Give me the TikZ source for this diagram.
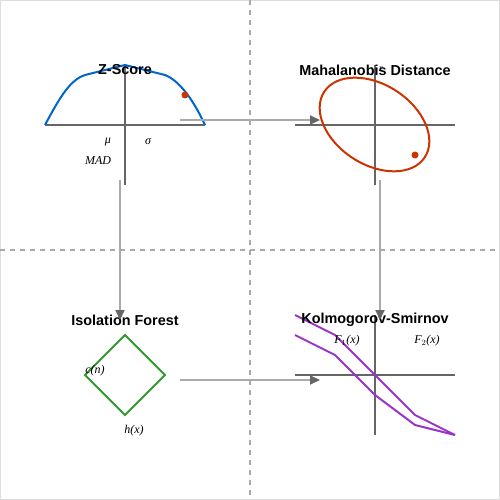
\documentclass[tikz,border=0pt]{standalone}
\usepackage{fontspec}
\setmainfont{Liberation Serif}
\setsansfont{Liberation Sans}
\usetikzlibrary{arrows.meta}
\definecolor{axisgray}{HTML}{666666}
\definecolor{linegray}{HTML}{AAAAAA}
\definecolor{dashgray}{HTML}{AAAAAA}
\definecolor{framegray}{HTML}{DDDDDD}
\definecolor{zblue}{HTML}{0066CC}
\definecolor{mred}{HTML}{CC3300}
\definecolor{igreen}{HTML}{339933}
\definecolor{kpurple}{HTML}{9933CC}
\tikzset{
  x=1pt, y=-1pt,
  axisline/.style={draw=axisgray, line width=2pt},
  divider/.style={draw=dashgray, line width=1.5pt, dash pattern=on 5pt off 5pt},
  flow/.style={draw=linegray, line width=2pt, -{Triangle[length=10pt,width=9pt,color=axisgray]}},
  title/.style={font=\sffamily\bfseries\fontsize{14.4}{16}\selectfont, inner sep=0pt},
  mlabel/.style={font=\itshape\fontsize{12}{14}\selectfont, inner sep=0pt},
  curve/.style={line width=2pt, line join=round},
  dot/.style={circle, fill=mred, inner sep=0pt, minimum size=7pt},
}
\begin{document}
\begin{tikzpicture}
\useasboundingbox (0,0) rectangle (500,500);
\fill[white] (0,0) rectangle (500,500);
\draw[framegray, line width=1pt] (0.5,0.5) rectangle (499.5,499.5);
% dividers
\coordinate (vtop) at (250,0); \coordinate (vbot) at (250,495);
\coordinate (hl) at (0,250); \coordinate (hr) at (495,250);
\draw[divider] (vtop) -- (vbot);
\draw[divider] (hl) -- (hr);

% ---------- Z-Score ----------
\coordinate (zxl) at (45,125); \coordinate (zxr) at (205,125);
\coordinate (zyt) at (125,65); \coordinate (zyb) at (125,185);
\draw[axisline] (zxl) -- (zxr);
\draw[axisline] (zyt) -- (zyb);
\draw[zblue, curve] (45,125) .. controls (60,97) and (70,80) .. (85,75) -- (125,65) -- (165,75) .. controls (178,80) and (192,97) .. (205,125);
\node[dot] (zdot) at (185,95) {};
\node[title] (ztitle) at (125,70) {Z-Score};
\node[mlabel] (mu) at (108,142) {μ};
\node[mlabel] (sigma) at (148,141) {σ};
\node[mlabel] (mad) at (98,161) {MAD};

% ---------- Mahalanobis ----------
\draw[axisline] (295,125) -- (455,125);
\draw[axisline] (375,65) -- (375,185);
\draw[mred, line width=2pt, rotate around={-33:(374.5,124.5)}] (374.5,124.5) ellipse [x radius=60, y radius=40];
\node[dot] (mdot) at (415,155) {};
\node[title] (mtitle) at (375,70) {Mahalanobis Distance};
\node[font=\itshape\fontsize{7}{8}\selectfont, inner sep=0pt] (msig) at (381,69) {Σ};

% ---------- Isolation Forest ----------
\node[title] (ititle) at (125,320) {Isolation Forest};
\coordinate (dt) at (125,335); \coordinate (dr) at (165,375);
\coordinate (db) at (125,415); \coordinate (dl) at (85,375);
\draw[igreen, line width=2pt] (dt) -- (dr) -- (db) -- (dl) -- cycle;
\node[mlabel] (cn) at (95,371) {c(n)};
\node[mlabel] (hx) at (134,431) {h(x)};

% ---------- Kolmogorov-Smirnov ----------
\draw[axisline] (295,375) -- (455,375);
\draw[axisline] (375,315) -- (375,435);
\draw[kpurple, curve] (295,315) -- (335,335) -- (375,375) -- (415,415) -- (455,435);
\draw[kpurple, curve] (295,335) -- (335,355) -- (375,395) -- (415,425) -- (455,435);
\node[title] (ktitle) at (375,320) {Kolmogorov-Smirnov};
\node[mlabel] (f1) at (347,341) {F$_1$(x)};
\node[mlabel] (f2) at (427,341) {F$_2$(x)};

% ---------- flow arrows ----------
\coordinate (a1s) at (180,120); \coordinate (a1e) at (320,120);
\coordinate (a2s) at (120,180); \coordinate (a2e) at (120,320);
\coordinate (a3s) at (380,180); \coordinate (a3e) at (380,320);
\coordinate (a4s) at (180,380); \coordinate (a4e) at (320,380);
\draw[flow] (a1s) -- (a1e);
\draw[flow] (a2s) -- (a2e);
\draw[flow] (a3s) -- (a3e);
\draw[flow] (a4s) -- (a4e);
\end{tikzpicture}
\end{document}
